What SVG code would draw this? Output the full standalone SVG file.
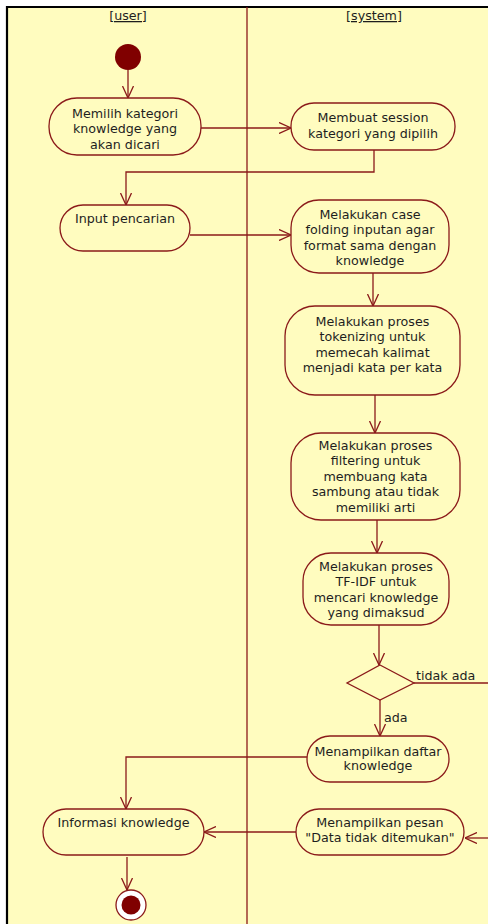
<svg xmlns="http://www.w3.org/2000/svg" width="488" height="924" viewBox="0 0 488 924">
<defs>
<style>
.bg{fill:#FFFCBF}
.node rect{fill:#FFFCBF;stroke:#8B1A1A;stroke-width:1.3}
.node text,.lbl{font-family:"DejaVu Sans",Verdana,sans-serif;font-size:12.7px;fill:#1E1E1E;text-anchor:middle}
.lbl{text-anchor:start}
.lane{font-family:"DejaVu Sans",Verdana,sans-serif;font-size:12.7px;fill:#1E1E1E;text-anchor:middle;text-decoration:underline}
#connectors path{fill:none;stroke:#8B1A1A;stroke-width:1.3}
</style>
<marker id="arr" viewBox="0 0 12 12" refX="12" refY="6" markerWidth="12" markerHeight="12" markerUnits="userSpaceOnUse" orient="auto">
<path d="M0,0.5 L12,6 L0,11.5" fill="none" stroke="#8B1A1A" stroke-width="1.3"/>
</marker>
</defs>
<rect x="0" y="0" width="488" height="924" fill="#FFFFFF"/>
<rect class="bg" x="7" y="7" width="490" height="930"/>
<path d="M7,937 V7 H497" fill="none" stroke="#000" stroke-width="2.2"/>
<line x1="247" y1="7" x2="247" y2="924" stroke="#8B1A1A" stroke-width="1.3"/>
<g id="lanes">
<text class="lane" x="128" y="20">[user]</text>
<text class="lane" x="374" y="20">[system]</text>
</g>
<g id="connectors">
<path d="M128,70 V98" marker-end="url(#arr)"/>
<path d="M201,128 H291" marker-end="url(#arr)"/>
<path d="M374,150 V172 H126 V205" marker-end="url(#arr)"/>
<path d="M190,235 H291" marker-end="url(#arr)"/>
<path d="M373,273 V306" marker-end="url(#arr)"/>
<path d="M375,395 V433" marker-end="url(#arr)"/>
<path d="M377,520 V553" marker-end="url(#arr)"/>
<path d="M379,625 V665" marker-end="url(#arr)"/>
<path d="M414,683 H492"/>
<path d="M380,700 V736" marker-end="url(#arr)"/>
<path d="M307,757 H126 V809" marker-end="url(#arr)"/>
<path d="M492,838 H465" marker-end="url(#arr)"/>
<path d="M296,832 H204" marker-end="url(#arr)"/>
<path d="M127,857 V890" marker-end="url(#arr)"/>
</g>
<g id="start"><circle cx="128" cy="57" r="13" fill="#800000"/></g>
<g id="n1" class="node"><rect x="49" y="98" width="152" height="57" rx="28" ry="28"/>
<text x="125" y="117.5">Memilih kategori</text><text x="125" y="133">knowledge yang</text><text x="125" y="148.5">akan dicari</text></g>
<g id="n2" class="node"><rect x="291" y="103" width="164" height="47" rx="23" ry="23"/>
<text x="373" y="121.5">Membuat session</text><text x="373" y="137.5">kategori yang dipilih</text></g>
<g id="n3" class="node"><rect x="60" y="205" width="130" height="46" rx="23" ry="23"/>
<text x="125" y="222.5">Input pencarian</text></g>
<g id="n4" class="node"><rect x="291" y="200" width="158" height="73" rx="28" ry="28"/>
<text x="370" y="218.5">Melakukan case</text><text x="370" y="234">folding inputan agar</text><text x="370" y="249.5">format sama dengan</text><text x="370" y="265">knowledge</text></g>
<g id="n5" class="node"><rect x="285" y="306" width="175" height="89" rx="30" ry="30"/>
<text x="372.5" y="325.5">Melakukan proses</text><text x="372.5" y="341">tokenizing untuk</text><text x="372.5" y="356.5">memecah kalimat</text><text x="372.5" y="372">menjadi kata per kata</text></g>
<g id="n6" class="node"><rect x="291" y="433" width="169" height="87" rx="30" ry="30"/>
<text x="375.5" y="449.5">Melakukan proses</text><text x="375.5" y="465">filtering untuk</text><text x="375.5" y="480.5">membuang kata</text><text x="375.5" y="496">sambung atau tidak</text><text x="375.5" y="511.5">memiliki arti</text></g>
<g id="n7" class="node"><rect x="303" y="553" width="146" height="72" rx="28" ry="28"/>
<text x="376" y="570.5">Melakukan proses</text><text x="376" y="586">TF-IDF untuk</text><text x="376" y="601.5">mencari knowledge</text><text x="376" y="617">yang dimaksud</text></g>
<g id="decision"><path d="M380,665 L414,683 L380,700 L347,683 Z" fill="#FFFCBF" stroke="#8B1A1A" stroke-width="1.3"/>
<text class="lbl" x="416" y="679.5">tidak ada</text><text class="lbl" x="384" y="721.5">ada</text></g>
<g id="n8" class="node"><rect x="307" y="736" width="142" height="46" rx="23" ry="23"/>
<text x="378" y="755.5">Menampilkan daftar</text><text x="378" y="770">knowledge</text></g>
<g id="n9" class="node"><rect x="43" y="809" width="161" height="46" rx="23" ry="23"/>
<text x="123.5" y="826.5">Informasi knowledge</text></g>
<g id="n10" class="node"><rect x="296" y="809" width="168" height="46" rx="23" ry="23"/>
<text x="380" y="826.5">Menampilkan pesan</text><text x="380" y="842">"Data tidak ditemukan"</text></g>
<g id="end"><circle cx="131" cy="905" r="15" fill="#FFFFFF" stroke="#8B1A1A" stroke-width="1.3"/><circle cx="131" cy="905" r="9.5" fill="#800000"/></g>
</svg>
